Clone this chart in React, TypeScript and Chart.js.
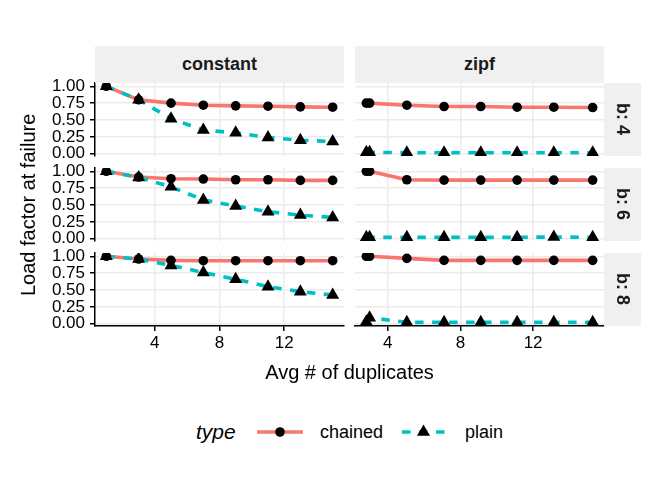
import React, { useEffect, useRef } from 'react';
import { Chart, registerables } from 'chart.js';

Chart.register(...registerables);

const FONT = "'Liberation Sans', Arial, Helvetica, sans-serif";
Chart.defaults.font.family = FONT;

// facets
const distributions = ['constant', 'zipf'];
const bucketLabels = ['b: 4', 'b: 6', 'b: 8'];
const seriesNames = ['chained', 'plain'];

// x values (avg # of duplicates) per distribution
const constantX = [1, 3, 5, 7, 9, 11, 13, 15];
const zipfX = [2.82, 3.0, 5.05, 7.1, 9.12, 11.12, 13.14, 15.28];

// load factor at failure, constant distribution
const chainedConstB4 = [1.0, 0.8, 0.75, 0.72, 0.71, 0.705, 0.695, 0.69];
const plainConstB4 = [1.0, 0.8, 0.52, 0.35, 0.31, 0.24, 0.2, 0.18];
const chainedConstB6 = [1.0, 0.915, 0.89, 0.885, 0.875, 0.875, 0.865, 0.865];
const plainConstB6 = [1.0, 0.91, 0.77, 0.575, 0.485, 0.4, 0.35, 0.315];
const chainedConstB8 = [1.0, 0.96, 0.94, 0.935, 0.935, 0.935, 0.935, 0.935];
const plainConstB8 = [1.0, 0.96, 0.865, 0.76, 0.66, 0.55, 0.475, 0.425];

// load factor at failure, zipf distribution
const chainedZipfB4 = [0.75, 0.75, 0.72, 0.7, 0.7, 0.69, 0.69, 0.685];
const plainZipfB4 = [0.02, 0.02, 0.015, 0.015, 0.015, 0.015, 0.015, 0.015];
const chainedZipfB6 = [1.0, 1.0, 0.875, 0.87, 0.87, 0.87, 0.87, 0.87];
const plainZipfB6 = [0.02, 0.02, 0.02, 0.02, 0.02, 0.02, 0.025, 0.02];
const chainedZipfB8 = [1.0, 1.0, 0.97, 0.94, 0.94, 0.94, 0.94, 0.94];
const plainZipfB8 = [0.03, 0.09, 0.02, 0.02, 0.02, 0.02, 0.02, 0.02];

const yTicks = [0, 0.25, 0.5, 0.75, 1];
const xTicks = [4, 8, 12];

const xValues = [constantX, zipfX];
const chainedValues = [
  [chainedConstB4, chainedZipfB4],
  [chainedConstB6, chainedZipfB6],
  [chainedConstB8, chainedZipfB8],
];
const plainValues = [
  [plainConstB4, plainZipfB4],
  [plainConstB6, plainZipfB6],
  [plainConstB8, plainZipfB8],
];

const COLORS: Record<string, string> = { chained: '#F8766D', plain: '#00BFC4' };
const GRID = '#EBEBEB';
const STRIP_BG = '#F0F0F0';
const LINE_W = 3.6;
const DASH = [8.5, 8.5];

// layout (page px)
const PANEL_LEFT = [95, 355];
const PANEL_TOP = [83, 168, 253];
const PANEL_W = 249;
const PANEL_H = 73;
const STRIP_SIZE = 37;
const Y_AXIS_W = 78;
const X_AXIS_H = 32;
const MARGIN = 20;

// ggplot style 5% expansion
const expandRange = (vals: number[]) => {
  const lo = Math.min(...vals);
  const hi = Math.max(...vals);
  const pad = (hi - lo) * 0.05;
  return [lo - pad, hi + pad];
};

const allY = [...chainedValues.flat(2), ...plainValues.flat(2)];
const [yMin, yMax] = expandRange(allY);

const Panel: React.FC<{ row: number; col: number }> = ({ row, col }) => {
  const ref = useRef<HTMLCanvasElement>(null);
  const showY = col === 0;
  const showX = row === bucketLabels.length - 1;
  const leftW = showY ? Y_AXIS_W : 0;
  const bottomH = showX ? X_AXIS_H : 0;
  const width = MARGIN * 2 + leftW + PANEL_W;
  const height = MARGIN * 2 + PANEL_H + bottomH;
  const left = PANEL_LEFT[col] - leftW - MARGIN;
  const top = PANEL_TOP[row] - MARGIN;

  useEffect(() => {
    if (!ref.current) return;
    const xs = xValues[col];
    const toPoints = (ys: number[]) => xs.map((x, i) => ({ x, y: ys[i] }));
    const chained = toPoints(chainedValues[row][col]);
    const plain = toPoints(plainValues[row][col]);
    const [xMin, xMax] = expandRange(xs);

    const chart = new Chart(ref.current, {
      type: 'scatter',
      data: {
        datasets: [
          {
            label: seriesNames[0],
            data: chained,
            showLine: true,
            borderColor: COLORS.chained,
            borderWidth: LINE_W,
            borderJoinStyle: 'round',
            pointRadius: 0,
            order: 4,
          },
          {
            label: seriesNames[1],
            data: plain,
            showLine: true,
            borderColor: COLORS.plain,
            borderWidth: LINE_W,
            borderDash: DASH,
            borderJoinStyle: 'round',
            pointRadius: 0,
            order: 3,
          },
          {
            label: seriesNames[0] + ' points',
            data: chained,
            showLine: false,
            pointStyle: 'circle',
            pointRadius: 4.8,
            pointBackgroundColor: '#000',
            pointBorderWidth: 0,
            order: 2,
          },
          {
            label: seriesNames[1] + ' points',
            data: plain,
            showLine: false,
            pointStyle: 'triangle',
            pointRadius: 7.5,
            pointBackgroundColor: '#000',
            pointBorderWidth: 0,
            order: 1,
          },
        ],
      },
      options: {
        animation: false,
        responsive: false,
        events: [],
        layout: { padding: MARGIN },
        plugins: { legend: { display: false }, tooltip: { enabled: false } },
        scales: {
          x: {
            type: 'linear',
            min: xMin,
            max: xMax,
            afterBuildTicks: (s: any) => {
              s.ticks = xTicks.map((value) => ({ value }));
            },
            afterFit: (s: any) => {
              s.height = bottomH;
            },
            grid: { color: GRID, lineWidth: 1.5, drawTicks: showX, tickLength: 5, tickColor: '#000', tickWidth: 1.5 },
            border: { display: showX, color: '#000', width: 1.5 },
            ticks: { display: showX, autoSkip: false, color: '#000', font: { size: 17 }, padding: 2, maxRotation: 0 },
          },
          y: {
            type: 'linear',
            min: yMin,
            max: yMax,
            afterBuildTicks: (s: any) => {
              s.ticks = yTicks.map((value) => ({ value }));
            },
            afterFit: (s: any) => {
              s.width = leftW;
            },
            grid: { color: GRID, lineWidth: 1.5, drawTicks: showY, tickLength: 5, tickColor: '#000', tickWidth: 1.5 },
            border: { display: showY, color: '#000', width: 1.5 },
            ticks: {
              display: showY,
              autoSkip: false,
              color: '#000',
              font: { size: 17 },
              padding: 5,
              callback: (v: any) => Number(v).toFixed(2),
            },
          },
        },
      },
    });

    return () => chart.destroy();
  }, [row, col]);

  return (
    <canvas
      ref={ref}
      width={width}
      height={height}
      style={{ position: 'absolute', left, top, width, height }}
    />
  );
};

const LegendKey: React.FC<{ name: string; width: number }> = ({ name, width }) => {
  const cy = 10;
  const cx = width / 2;
  return (
    <svg width={width} height={20} style={{ display: 'block' }}>
      <line
        x1={0}
        y1={cy}
        x2={width}
        y2={cy}
        stroke={COLORS[name]}
        strokeWidth={LINE_W}
        strokeDasharray={name === 'plain' ? DASH.join(' ') : undefined}
      />
      {name === 'chained' ? (
        <circle cx={cx} cy={cy} r={4.8} fill="#000" />
      ) : (
        <polygon
          points={`${cx},${cy - 7.5} ${cx + 6.5},${cy + 3.75} ${cx - 6.5},${cy + 3.75}`}
          fill="#000"
        />
      )}
    </svg>
  );
};

export default function App() {
  const textBase: React.CSSProperties = { position: 'absolute', fontFamily: FONT, color: '#000', whiteSpace: 'nowrap' };
  const lastRow = bucketLabels.length - 1;
  const panelsRight = PANEL_LEFT[1] + PANEL_W;
  const panelsTop = PANEL_TOP[0];
  const panelsBottom = PANEL_TOP[lastRow] + PANEL_H;

  return (
    <div
      style={{
        position: 'absolute',
        left: 0,
        top: 0,
        width: 664,
        height: 483,
        background: '#fff',
        overflow: 'hidden',
      }}
    >
      {bucketLabels.map((_, row) =>
        distributions.map((__, col) => <Panel key={`${row}-${col}`} row={row} col={col} />)
      )}

      {distributions.map((d, col) => (
        <div
          key={d}
          style={{
            ...textBase,
            left: PANEL_LEFT[col],
            top: PANEL_TOP[0] - STRIP_SIZE,
            width: PANEL_W,
            height: STRIP_SIZE,
            lineHeight: `${STRIP_SIZE}px`,
            background: STRIP_BG,
            textAlign: 'center',
            fontWeight: 'bold',
            fontSize: 18,
            color: '#1a1a1a',
          }}
        >
          {d}
        </div>
      ))}

      {bucketLabels.map((b, row) => (
        <div
          key={b}
          style={{
            ...textBase,
            left: panelsRight,
            top: PANEL_TOP[row],
            width: STRIP_SIZE,
            height: PANEL_H,
            background: STRIP_BG,
            display: 'flex',
            alignItems: 'center',
            justifyContent: 'center',
            writingMode: 'vertical-rl',
            fontWeight: 'bold',
            fontSize: 18,
            color: '#1a1a1a',
          }}
        >
          {b}
        </div>
      ))}

      {/* y axis title, rotated to read bottom-to-top */}
      <div
        style={{
          ...textBase,
          left: 17,
          top: panelsTop,
          width: 24,
          height: panelsBottom - panelsTop,
          display: 'flex',
          alignItems: 'center',
          justifyContent: 'center',
          writingMode: 'vertical-rl',
          transform: 'rotate(180deg)',
          fontSize: 20,
        }}
      >
        Load factor at failure
      </div>

      <div
        style={{
          ...textBase,
          left: PANEL_LEFT[0],
          width: panelsRight - PANEL_LEFT[0],
          top: panelsBottom + 34,
          lineHeight: '24px',
          textAlign: 'center',
          fontSize: 20,
        }}
      >
        Avg # of duplicates
      </div>

      <div style={{ ...textBase, left: 196, top: 419, lineHeight: '26px', fontSize: 21, fontStyle: 'italic' }}>
        type
      </div>
      <div style={{ position: 'absolute', left: 257, top: 422 }}>
        <LegendKey name="chained" width={46} />
      </div>
      <div style={{ ...textBase, left: 320, top: 421, lineHeight: '22px', fontSize: 18 }}>chained</div>
      <div style={{ position: 'absolute', left: 402, top: 422 }}>
        <LegendKey name="plain" width={43} />
      </div>
      <div style={{ ...textBase, left: 465, top: 421, lineHeight: '22px', fontSize: 18 }}>plain</div>
    </div>
  );
}
